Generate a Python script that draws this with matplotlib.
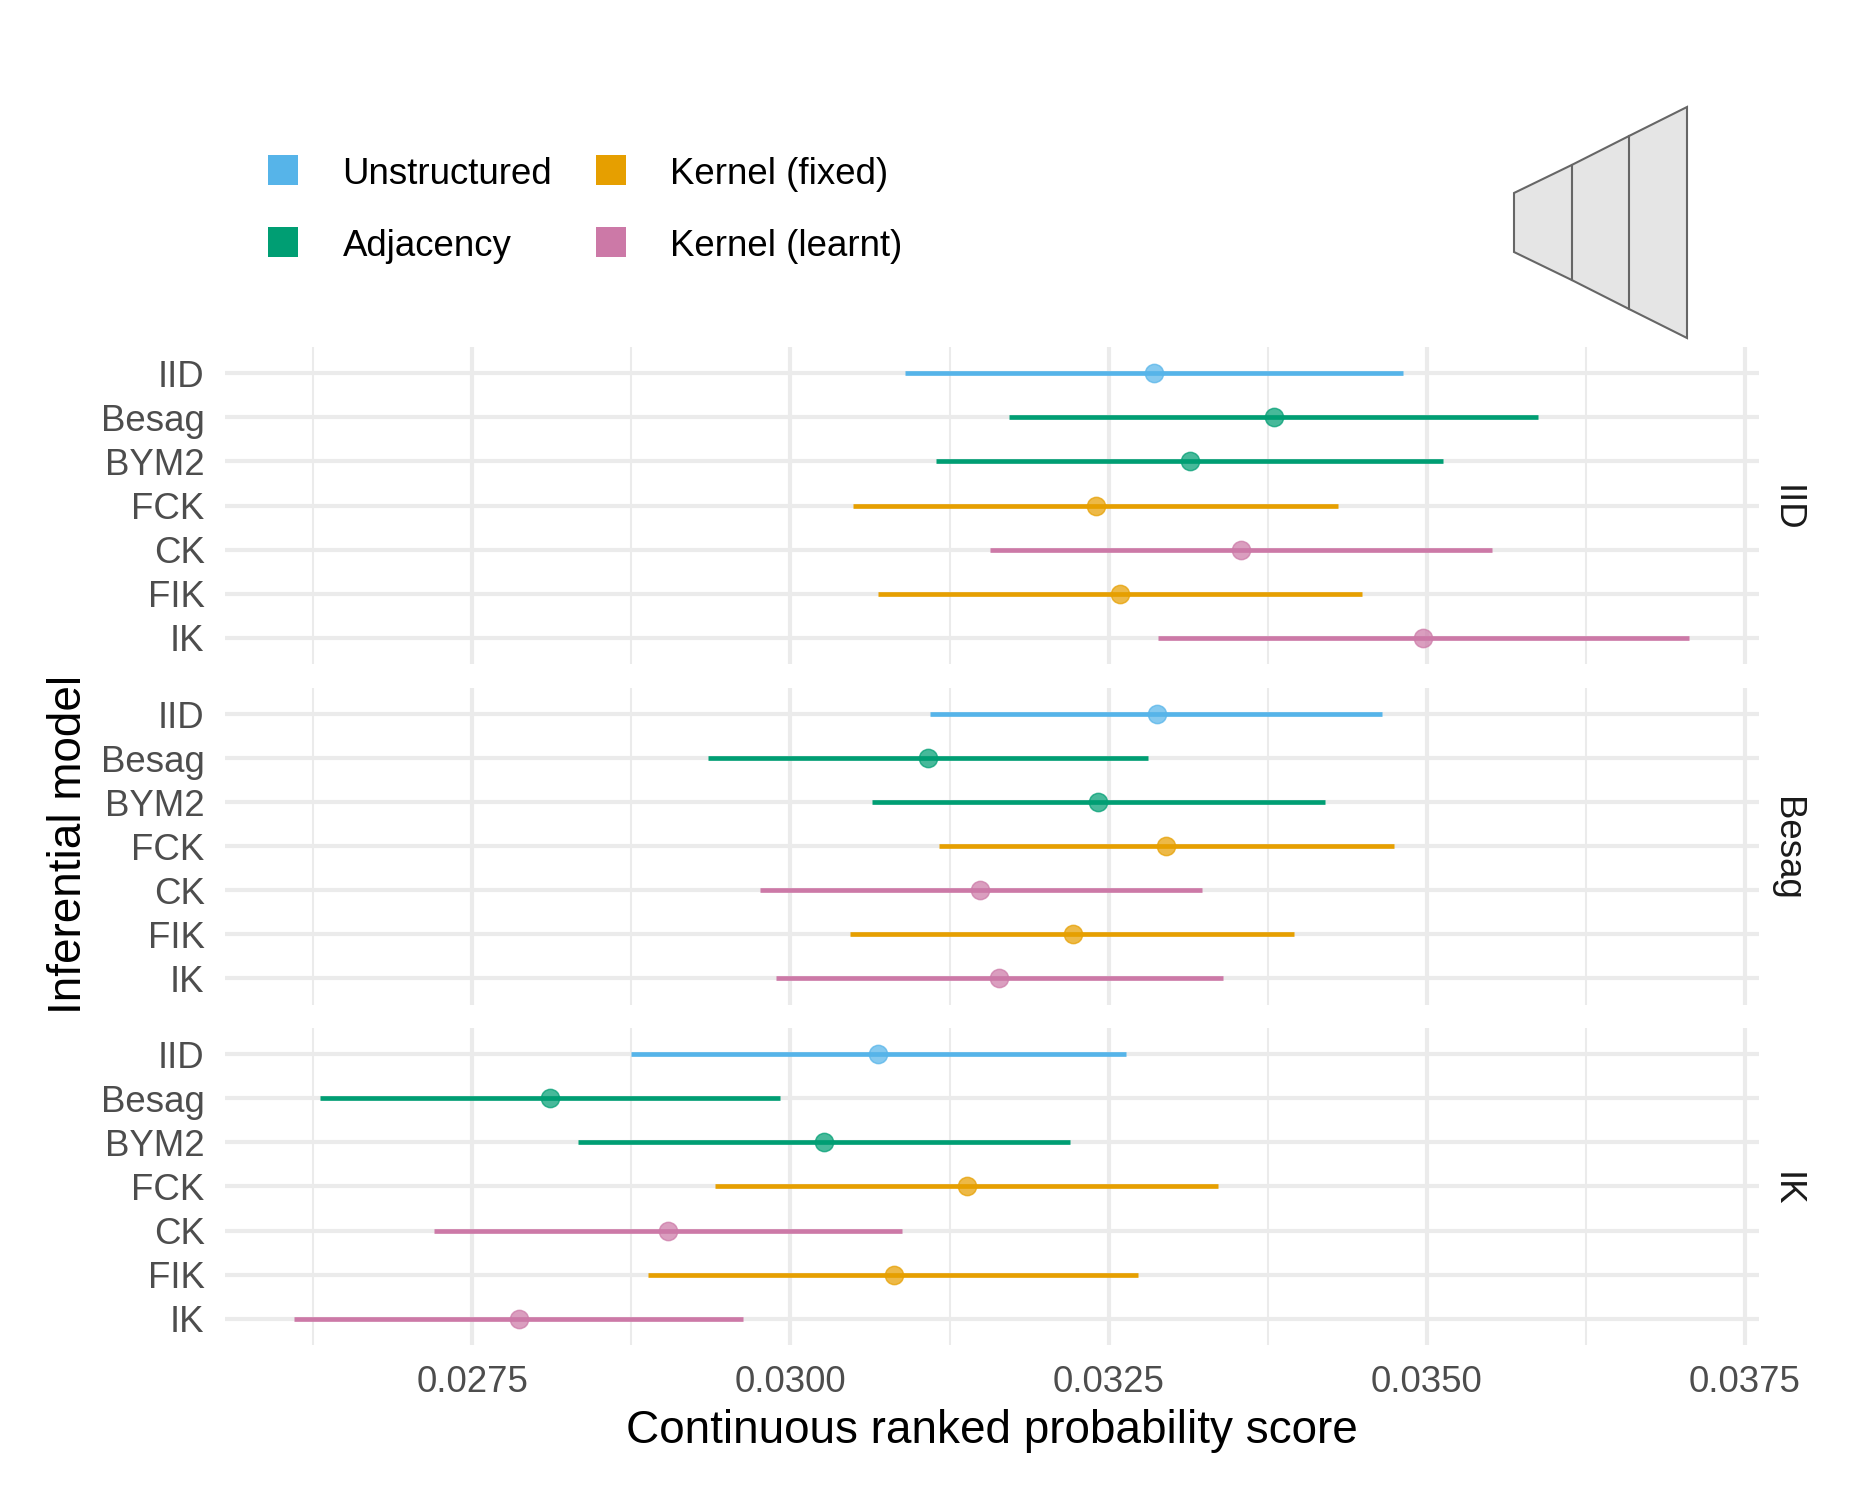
import matplotlib
matplotlib.use("Agg")
import matplotlib.pyplot as plt
from matplotlib.patches import Polygon, Rectangle
import numpy as np

plt.rcParams['font.family'] = ['Liberation Sans', 'DejaVu Sans']

W, H = 1875, 1500

models = ["IID", "Besag", "BYM2", "FCK", "CK", "FIK", "IK"]
model_type = ["Unstructured", "Adjacency", "Adjacency", "Kernel (fixed)",
              "Kernel (learnt)", "Kernel (fixed)", "Kernel (learnt)"]
panels = ["IID", "Besag", "IK"]

iid_low = [0.03090, 0.03172, 0.03114, 0.03049, 0.03157, 0.03069, 0.03289]
iid_mean = [0.03286, 0.03380, 0.03314, 0.03240, 0.03354, 0.03259, 0.03497]
iid_high = [0.03481, 0.03587, 0.03513, 0.03430, 0.03551, 0.03449, 0.03706]

besag_low = [0.03110, 0.02935, 0.03064, 0.03117, 0.02976, 0.03047, 0.02989]
besag_mean = [0.03288, 0.03108, 0.03242, 0.03295, 0.03149, 0.03222, 0.03164]
besag_high = [0.03465, 0.03281, 0.03420, 0.03474, 0.03323, 0.03396, 0.03340]

ik_low = [0.02875, 0.02630, 0.02833, 0.02941, 0.02720, 0.02888, 0.02610]
ik_mean = [0.03069, 0.02811, 0.03026, 0.03139, 0.02904, 0.03081, 0.02787]
ik_high = [0.03264, 0.02992, 0.03220, 0.03336, 0.03088, 0.03273, 0.02963]

colours = {"Unstructured": "#56B4E9", "Adjacency": "#009E73",
           "Kernel (fixed)": "#E69F00", "Kernel (learnt)": "#CC79A7"}

x_major = [0.0275, 0.0300, 0.0325, 0.0350, 0.0375]
x_minor = [0.02625, 0.02875, 0.03125, 0.03375, 0.03625]
x_labels = ["0.0275", "0.0300", "0.0325", "0.0350", "0.0375"]


# pixel box (top left origin) to figure fractions
def px_box(left, right, top, bottom):
    return [left / W, 1 - bottom / H, (right - left) / W, (bottom - top) / H]


def fx(x):
    return x / W


def fy(y):
    return 1 - y / H


fig = plt.figure(figsize=(6.25, 5), dpi=300)

panel_rows = [(347, 664), (688, 1004.5), (1028, 1345)]
series = [(iid_low, iid_mean, iid_high), (besag_low, besag_mean, besag_high),
          (ik_low, ik_mean, ik_high)]

for k, name in enumerate(panels):
    top, bottom = panel_rows[k]
    ax = fig.add_axes(px_box(224.5, 1759, top, bottom))
    ax.set_xlim(0.025553, 0.03761)
    ax.set_ylim(6.6, -0.6)
    for s in ax.spines.values():
        s.set_visible(False)
    ax.set_axisbelow(True)
    ax.set_xticks(x_major)
    ax.set_xticks(x_minor, minor=True)
    ax.set_yticks(range(len(models)))
    ax.set_yticklabels(models, va="center_baseline")
    ax.grid(True, which="major", color="#EBEBEB", lw=1.0)
    ax.grid(True, which="minor", axis="x", color="#EBEBEB", lw=0.5)
    ax.tick_params(which="both", length=0)
    ax.tick_params(axis="y", labelsize=8.8, labelcolor="#4D4D4D", pad=4.8)
    if k == 2:
        ax.set_xticklabels(x_labels)
        ax.tick_params(axis="x", labelsize=8.8, labelcolor="#4D4D4D", pad=4.8)
    else:
        ax.tick_params(axis="x", labelbottom=False)

    low, mean, high = series[k]
    for i in range(len(models)):
        c = colours[model_type[i]]
        ax.plot([low[i], high[i]], [i, i], color=c, lw=1.12,
                solid_capstyle="butt", zorder=3)
        ax.plot(mean[i], i, "o", color=c, ms=4.4, mew=0.35, alpha=0.72, zorder=4)

    fig.text(fx(1786), fy((top + bottom) / 2 + 2.5), name, rotation=-90, ha="center",
             va="center", fontsize=8.8, color="#1A1A1A")

fig.text(fx(991.7), fy(1431), "Continuous ranked probability score",
         ha="center", va="center", fontsize=11)
fig.text(fx(69.5), fy(844), "Inferential model", rotation=90,
         ha="center", va="center", fontsize=11)

# legend, two columns
legend_names = list(colours.keys())
legend_pos = [(268, 155), (268, 227), (596, 155), (596, 227)]
for name, (lx, ly) in zip(legend_names, legend_pos):
    fig.add_artist(Rectangle((fx(lx), fy(ly + 30)), 30 / W, 30 / H,
                             transform=fig.transFigure, color=colours[name], lw=0))
    fig.text(fx(lx + 74.5), fy(ly + 15), name, ha="left", va="center_baseline", fontsize=8.8)

# the little trapezoid sketch top right
xs = [1514, 1571.7, 1629, 1687]
tops = [193, 165, 136, 107]
bots = [252, 280, 309, 338]
outline = [(fx(a), fy(b)) for a, b in zip(xs, tops)] + \
          [(fx(a), fy(b)) for a, b in zip(xs[::-1], bots[::-1])]
fig.add_artist(Polygon(outline, closed=True, transform=fig.transFigure,
                       facecolor="#E5E5E5", edgecolor="#666666", lw=0.5))
for a, b, c in zip(xs[1:3], tops[1:3], bots[1:3]):
    fig.add_artist(plt.Line2D([fx(a), fx(a)], [fy(b), fy(c)], transform=fig.transFigure,
                              color="#666666", lw=0.5))

fig.savefig("out.png", dpi=300, facecolor="white")
